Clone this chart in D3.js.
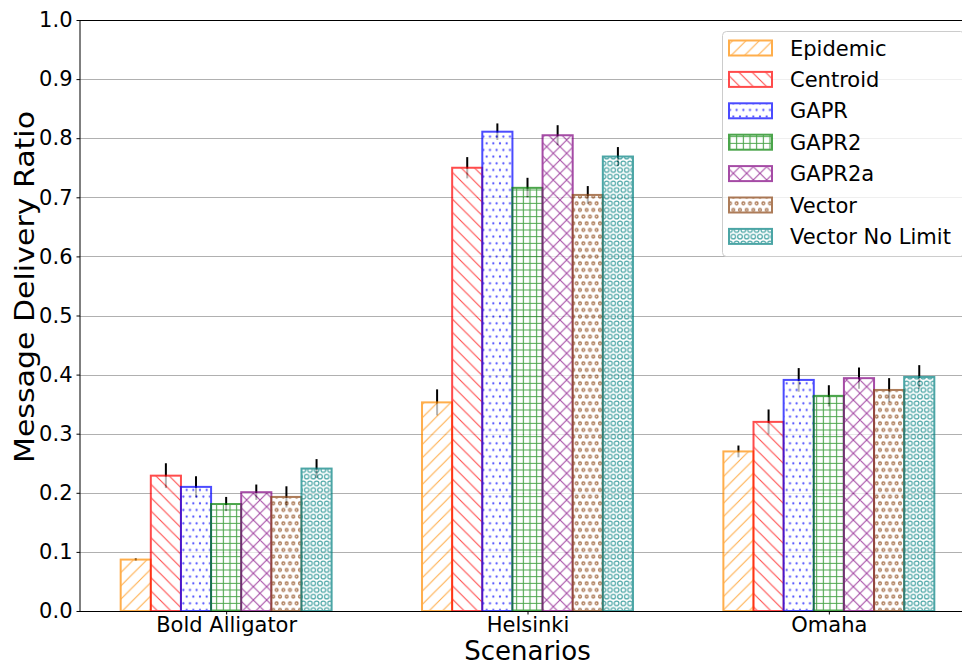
<!DOCTYPE html>
<html><head><meta charset="utf-8">
<script src="https://cdn.jsdelivr.net/npm/d3@7"></script>
<style>body{margin:0;background:#fff} text{font-family:"DejaVu Sans",sans-serif;fill:#000}</style>
</head><body><svg id="c" width="962" height="666"></svg>
<script>
// ---------- data ----------
const scenarios = ["Bold Alligator", "Helsinki", "Omaha"];
const methods = ["Epidemic", "Centroid", "GAPR", "GAPR2", "GAPR2a", "Vector", "Vector No Limit"];
const epidemic      = [0.087, 0.353, 0.270];
const centroid      = [0.229, 0.750, 0.320];
const gapr          = [0.210, 0.811, 0.391];
const gapr2         = [0.181, 0.716, 0.364];
const gapr2a        = [0.201, 0.805, 0.394];
const vector        = [0.193, 0.704, 0.374];
const vectorNoLimit = [0.241, 0.769, 0.396];
const epidemicErr      = [0.002, 0.022, 0.010];
const centroidErr      = [0.021, 0.018, 0.021];
const gaprErr          = [0.018, 0.014, 0.020];
const gapr2Err         = [0.012, 0.017, 0.018];
const gapr2aErr        = [0.013, 0.017, 0.018];
const vectorErr        = [0.018, 0.015, 0.020];
const vectorNoLimitErr = [0.016, 0.016, 0.020];
const yTicks = [0.0, 0.1, 0.2, 0.3, 0.4, 0.5, 0.6, 0.7, 0.8, 0.9, 1.0];

const seriesValues = [epidemic, centroid, gapr, gapr2, gapr2a, vector, vectorNoLimit];
const seriesErrors = [epidemicErr, centroidErr, gaprErr, gapr2Err, gapr2aErr, vectorErr, vectorNoLimitErr];

// ---------- styles ----------
const colors = ["#ff8c00", "#ff0000", "#0000ff", "#008000", "#800080", "#8b4513", "#008080"];
const hatches = ["/", "\\", "..", "++", "x", "oo", "OO"];

const svg = d3.select("#c");
svg.append("rect").attr("width", 962).attr("height", 666).attr("fill", "#fff");
const L = 80, R = 975, T = 20, B = 611;
const x = d3.scaleLinear().domain([-0.485, 2.485]).range([L, R]);
const y = d3.scaleLinear().domain([0, 1]).range([B, T]);
const barW = 0.1;

// patterns
const defs = svg.append("defs");
const big = 80 / 6, small = 80 / 12;
function makePattern(i) {
  const h = hatches[i], c = colors[i], id = "pat" + i;
  const p = defs.append("pattern").attr("id", id).attr("patternUnits", "userSpaceOnUse").attr("x", 0).attr("y", 0);
  const sw = 1.1;
  if (h === "/" || h === "\\" || h === "x") {
    const s = big;
    p.attr("width", s).attr("height", s);
    let d = "";
    if (h === "/" || h === "x") d += `M0,${s} L${s},0 M${-s/2},${s/2} L${s/2},${-s/2} M${s/2},${s*1.5} L${s*1.5},${s/2} `;
    if (h === "\\" || h === "x") d += `M0,0 L${s},${s} M${-s/2},${s/2} L${s/2},${s*1.5} M${s/2},${-s/2} L${s*1.5},${s/2}`;
    p.append("path").attr("d", d).attr("stroke", c).attr("stroke-width", sw).attr("fill", "none");
  } else if (h === "++") {
    const s = small;
    p.attr("width", s).attr("height", s);
    p.append("path").attr("d", `M${s/2},0 V${s} M0,${s/2} H${s}`).attr("stroke", c).attr("stroke-width", sw).attr("fill", "none");
  } else {
    const s = small;
    p.attr("width", s).attr("height", 2 * s);
    const filled = h === "..";
    const r = filled ? 1.1 : (h === "oo" ? 1.35 : 2.33);
    const w = h === "oo" ? 1.4 : 1.2;
    [[s/2, s/2], [0, 1.5*s], [s, 1.5*s]].forEach(([cx, cy]) => {
      p.append("circle").attr("cx", cx).attr("cy", cy).attr("r", r)
        .attr("fill", filled ? c : "none").attr("stroke", filled ? "none" : c).attr("stroke-width", w);
    });
  }
  return id;
}
const patIds = methods.map((m, i) => makePattern(i));

// gridlines
svg.append("g").selectAll("line").data(yTicks.filter(t => t > 0 && t < 1)).join("line")
  .attr("x1", L).attr("x2", R).attr("y1", d => Math.round(y(d)) + 0.5).attr("y2", d => Math.round(y(d)) + 0.5)
  .attr("stroke", "#b0b0b0").attr("stroke-width", 1);

// error bars (under the semi-transparent bars)
const bars = [];
seriesValues.forEach((vals, i) => vals.forEach((v, g) => bars.push({ i, g, v, e: seriesErrors[i][g] })));
const cx = d => x(d.g + (d.i - 3) * barW);
svg.append("g").selectAll("line").data(bars).join("line")
  .attr("x1", cx).attr("x2", cx).attr("y1", d => y(d.v - d.e)).attr("y2", d => y(d.v + d.e))
  .attr("stroke", "#000").attr("stroke-width", 2);

// bars
const bg = svg.append("g");
bars.forEach(d => {
  const g = bg.append("g").attr("opacity", 0.7);
  const x0 = x(d.g + (d.i - 3) * barW - barW / 2), x1 = x(d.g + (d.i - 3) * barW + barW / 2);
  const yt = y(d.v), yb = y(0);
  g.append("rect").attr("x", x0).attr("y", yt).attr("width", x1 - x0).attr("height", yb - yt).attr("fill", "#fff");
  g.append("rect").attr("x", x0).attr("y", yt).attr("width", x1 - x0).attr("height", yb - yt).attr("fill", `url(#${patIds[d.i]})`);
  g.append("rect").attr("x", x0).attr("y", yt).attr("width", x1 - x0).attr("height", yb - yt)
    .attr("fill", "none").attr("stroke", colors[d.i]).attr("stroke-width", 2);
});

// spines
svg.append("line").attr("x1", L).attr("x2", R).attr("y1", T + 0.5).attr("y2", T + 0.5).attr("stroke", "#000");
svg.append("line").attr("x1", L).attr("x2", R).attr("y1", B + 0.5).attr("y2", B + 0.5).attr("stroke", "#000");
svg.append("line").attr("x1", L).attr("x2", L).attr("y1", T).attr("y2", B + 1).attr("stroke", "#000");
svg.append("line").attr("x1", R).attr("x2", R).attr("y1", T).attr("y2", B + 1).attr("stroke", "#000");

// y axis
const yAxis = d3.axisLeft(y).tickValues(yTicks).tickFormat(d3.format(".1f")).tickSize(3.5).tickPadding(4);
const ya = svg.append("g").attr("transform", `translate(${L},0)`).call(yAxis);
ya.select(".domain").remove();
ya.selectAll("text").attr("font-size", 21).attr("font-family", "DejaVu Sans").attr("fill", "#000");
ya.selectAll("line").attr("stroke", "#000");

// x axis
const xAxis = d3.axisBottom(x).tickValues([0, 1, 2]).tickFormat(i => scenarios[i]).tickSize(3.5).tickPadding(3);
const xa = svg.append("g").attr("transform", `translate(0,${B})`).call(xAxis);
xa.select(".domain").remove();
xa.selectAll("text").attr("font-size", 21).attr("font-family", "DejaVu Sans").attr("fill", "#000");
xa.selectAll("line").attr("stroke", "#000");

// axis labels
svg.append("text").attr("x", (L + R) / 2).attr("y", 660).attr("text-anchor", "middle").attr("font-size", 26).text("Scenarios");
svg.append("text").attr("transform", `translate(34,287) rotate(-90)`).attr("text-anchor", "middle")
  .attr("font-size", 27).attr("textLength", 352).attr("lengthAdjust", "spacingAndGlyphs").text("Message Delivery Ratio");

// legend
const lg = svg.append("g");
lg.append("rect").attr("x", 722.5).attr("y", 31.5).attr("width", 242).attr("height", 225).attr("rx", 4)
  .attr("fill", "#fff").attr("fill-opacity", 0.8).attr("stroke", "#ccc");
methods.forEach((m, i) => {
  const cy = 48 + i * 31.4;
  const g = lg.append("g").attr("opacity", 0.7);
  g.append("rect").attr("x", 729).attr("y", cy - 7.5).attr("width", 43).attr("height", 15).attr("fill", "#fff");
  g.append("rect").attr("x", 729).attr("y", cy - 7.5).attr("width", 43).attr("height", 15).attr("fill", `url(#${patIds[i]})`);
  g.append("rect").attr("x", 729).attr("y", cy - 7.5).attr("width", 43).attr("height", 15).attr("fill", "none")
    .attr("stroke", colors[i]).attr("stroke-width", 2);
  lg.append("text").attr("x", 790).attr("y", cy + 7.5).attr("font-size", 21).text(m);
});
</script></body></html>
